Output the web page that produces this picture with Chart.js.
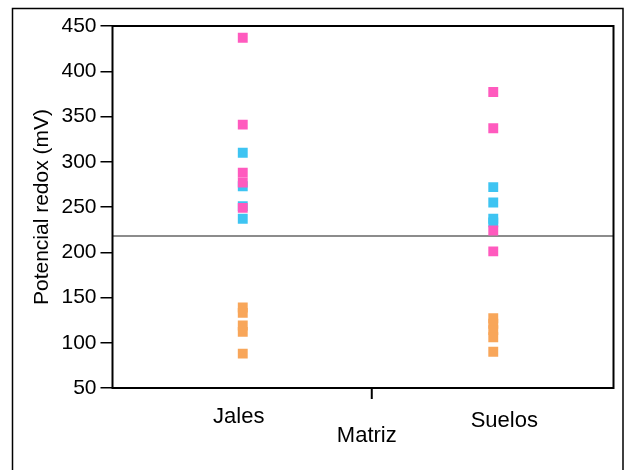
<!DOCTYPE html>
<html>
<head>
<meta charset="utf-8">
<script src="https://cdn.jsdelivr.net/npm/chart.js@4"></script>
<style>
  html, body { margin: 0; padding: 0; background: #fff; }
  #wrap { width: 626px; height: 470px; }
</style>
</head>
<body>
<div id="wrap"><canvas id="c" width="626" height="470"></canvas></div>
<script>
// Categorías del eje X (Matriz) y sus posiciones en el eje
const categories = ['Jales', 'Suelos'];
const categoryPos = [0, 1];

// Potencial redox (mV) por grupo de muestras
const rosaJales = [437, 341, 288, 277, 249];
const rosaSuelos = [377, 337, 224, 201];
const azulJales = [310, 273, 251, 237];
const azulSuelos = [272, 255, 237, 233];
const naranjaJales = [139, 133, 119, 112, 88];
const naranjaSuelos = [127, 121, 114, 106, 90];

// Línea de referencia horizontal (mV)
const referenceLine = 218;

// Eje Y
const yMin = 50, yMax = 450, yStep = 50;
const yTitle = 'Potencial redox (mV)';
const xTitle = 'Matriz';

const FONT = '"Liberation Sans", Arial, Helvetica, sans-serif';

function pts(values, pos) {
  return values.map(v => ({ x: pos, y: v }));
}

const colors = {
  rosa: 'rgb(255, 90, 190)',
  azul: 'rgb(62, 196, 242)',
  naranja: 'rgb(248, 166, 90)'
};

const decor = {
  id: 'decor',
  beforeDraw(chart) {
    const ctx = chart.ctx;
    ctx.save();
    ctx.fillStyle = '#fff';
    ctx.fillRect(0, 0, chart.width, chart.height);
    ctx.restore();
  },
  afterDraw(chart) {
    const ctx = chart.ctx;
    const a = chart.chartArea;
    const xs = chart.scales.x;
    ctx.save();
    // marco exterior (izquierda, arriba, derecha)
    ctx.strokeStyle = '#000';
    ctx.lineWidth = 1.5;
    ctx.beginPath();
    ctx.moveTo(12.5, 470);
    ctx.lineTo(12.5, 8.5);
    ctx.lineTo(623, 8.5);
    ctx.lineTo(623, 470);
    ctx.stroke();

    // caja del área de trazado
    ctx.lineWidth = 2;
    ctx.strokeRect(a.left, a.top, a.right - a.left, a.bottom - a.top);

    // marca central del eje X
    const mid = xs.getPixelForValue((categoryPos[0] + categoryPos[1]) / 2 + 0.015);
    ctx.beginPath();
    ctx.moveTo(mid, a.bottom);
    ctx.lineTo(mid, a.bottom + 11);
    ctx.stroke();

    // etiquetas de categoría
    ctx.fillStyle = '#000';
    ctx.textAlign = 'center';
    ctx.textBaseline = 'middle';
    ctx.font = '22px ' + FONT;
    const offs = [{ dx: -4, y: 417 }, { dx: 11, y: 421 }];
    categories.forEach((c, i) => {
      ctx.fillText(c, xs.getPixelForValue(categoryPos[i]) + offs[i].dx, offs[i].y);
    });
    ctx.fillText(xTitle, mid - 5, 436);

    // título del eje Y
    ctx.translate(42, (a.top + a.bottom) / 2);
    ctx.rotate(-Math.PI / 2);
    ctx.font = '21px ' + FONT;
    ctx.fillText(yTitle, 0, 0);
    ctx.restore();
  }
};

const pointDs = (data, color, order) => ({
  type: 'scatter',
  data,
  order,
  pointStyle: 'rect',
  pointRadius: 7,
  pointHoverRadius: 7,
  backgroundColor: color,
  borderWidth: 0
});

new Chart(document.getElementById('c'), {
  type: 'scatter',
  data: {
    datasets: [
      pointDs(pts(rosaJales, categoryPos[0]).concat(pts(rosaSuelos, categoryPos[1])), colors.rosa, 1),
      pointDs(pts(azulJales, categoryPos[0]).concat(pts(azulSuelos, categoryPos[1])), colors.azul, 2),
      pointDs(pts(naranjaJales, categoryPos[0]).concat(pts(naranjaSuelos, categoryPos[1])), colors.naranja, 3),
      {
        type: 'line',
        order: 4,
        data: [{ x: -0.52, y: referenceLine }, { x: 1.48, y: referenceLine }],
        borderColor: 'rgb(140, 140, 140)',
        borderWidth: 2,
        pointRadius: 0,
        fill: false
      }
    ]
  },
  options: {
    responsive: false,
    animation: false,
    events: [],
    layout: { padding: { top: 26, right: 12.5, bottom: 82, left: 0 } },
    plugins: { legend: { display: false }, tooltip: { enabled: false } },
    scales: {
      x: {
        type: 'linear',
        display: false,
        min: -0.52,
        max: 1.48
      },
      y: {
        type: 'linear',
        min: yMin,
        max: yMax,
        border: { display: false },
        grid: {
          drawOnChartArea: false,
          drawTicks: true,
          tickLength: 12,
          color: '#000',
          lineWidth: 1.5
        },
        ticks: {
          stepSize: yStep,
          color: '#000',
          padding: 4,
          font: { family: FONT, size: 21 }
        },
        afterFit(scale) { scale.width = 112.5; }
      }
    }
  },
  plugins: [decor]
});
</script>
</body>
</html>
